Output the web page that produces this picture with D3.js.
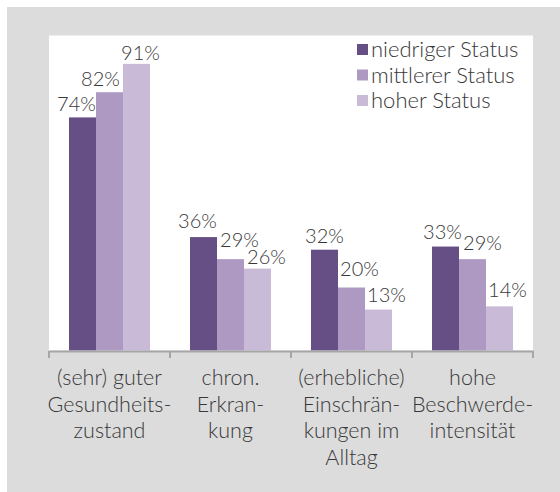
<!DOCTYPE html>
<html><head><meta charset="utf-8">
<script src="https://cdn.jsdelivr.net/npm/d3@7"></script>
<style>html,body{margin:0;padding:0;background:#ffffff;}svg{display:block;}</style>
</head><body>
<svg id="chart" width="560" height="492"></svg>
<script>
const categories = [
  ["(sehr) guter", "Gesundheits-", "zustand"],
  ["chron.", "Erkran-", "kung"],
  ["(erhebliche)", "Einschrän-", "kungen im", "Alltag"],
  ["hohe", "Beschwerde-", "intensität"]
];
const seriesNames = ["niedriger Status", "mittlerer Status", "hoher Status"];
const niedriger = [74, 36, 32, 33];
const mittlerer = [82, 29, 20, 29];
const hoher = [91, 26, 13, 14];
const values = [niedriger, mittlerer, hoher];
const colors = ["#654f84", "#ae99c2", "#c9bad7"];
// label nudges [dx from bar centre, gap above bar top]
const labelNudge = [
  [[-6, 6.7], [-6, 8.8], [0, 7], [-3, 7.5]],
  [[-9, 6.2], [9, 12.5], [8, 11.5], [10, 9]],
  [[4, 3.8], [9, 4.6], [8, 7.5], [8, 9.7]]
];

const svg = d3.select("#chart");
const W = 560, H = 492;
const plot = {x0: 49, x1: 533, y0: 35.5, y1: 350.5};
const font = "Lato, 'Liberation Sans', sans-serif";
const weight = 300;
const textCol = "#383838";

svg.append("rect").attr("x", 7).attr("y", 7).attr("width", W - 7).attr("height", H - 7).attr("fill", "#dcdcdc");
svg.append("rect").attr("x", plot.x0).attr("y", plot.y0).attr("width", plot.x1 - plot.x0)
  .attr("height", plot.y1 - plot.y0).attr("fill", "#ffffff");

const x = d3.scaleBand().domain(d3.range(categories.length)).range([plot.x0, plot.x1]).paddingInner(0).paddingOuter(0);
const inner = d3.scaleBand().domain(d3.range(seriesNames.length)).range([0, x.bandwidth()]).paddingInner(0).paddingOuter(0.74);
const y = d3.scaleLinear().domain([0, 100]).range([plot.y1, plot.y0]);

const g = svg.append("g");
values.forEach((arr, s) => {
  g.selectAll(null).data(arr).enter().append("rect")
    .attr("x", (d, i) => x(i) + inner(s))
    .attr("y", d => y(d))
    .attr("width", inner.bandwidth())
    .attr("height", d => y(0) - y(d))
    .attr("fill", colors[s]);
});

values.forEach((arr, s) => {
  g.selectAll(null).data(arr).enter().append("text")
    .attr("x", (d, i) => x(i) + inner(s) + inner.bandwidth() / 2 + labelNudge[s][i][0])
    .attr("y", (d, i) => y(d) - labelNudge[s][i][1])
    .attr("text-anchor", "middle")
    .attr("font-family", font).attr("font-weight", weight).attr("font-size", 20).attr("fill", textCol)
    .text(d => d + "%");
});

const axis = d3.axisBottom(x).tickValues([]).tickSizeOuter(0);
const axG = svg.append("g").attr("transform", `translate(0,${plot.y1 + 0.5})`).call(axis);
axG.select(".domain").attr("stroke", "#a6a6a6").attr("stroke-width", 2);
const tickPos = d3.range(categories.length + 1).map(i => i < categories.length ? x(i) : x(categories.length - 1) + x.bandwidth());
axG.selectAll("line.tk").data(tickPos).enter().append("line").attr("class", "tk")
  .attr("x1", d => d).attr("x2", d => d).attr("y1", 0).attr("y2", 7)
  .attr("stroke", "#a6a6a6").attr("stroke-width", 2);

categories.forEach((lines, i) => {
  const t = svg.append("text").attr("text-anchor", "middle")
    .attr("font-family", font).attr("font-weight", weight).attr("font-size", 21.5).attr("fill", textCol);
  lines.forEach((ln, k) => {
    t.append("tspan").attr("x", x(i) + x.bandwidth() / 2).attr("y", 385 + k * 26.7).text(ln);
  });
});

const leg = svg.append("g").attr("transform", "translate(357,0)");
seriesNames.forEach((n, s) => {
  const by = 57 + s * 25.5;
  leg.append("rect").attr("x", 0).attr("y", by - 13).attr("width", 11).attr("height", 11).attr("fill", colors[s]);
  leg.append("text").attr("x", 14).attr("y", by).attr("font-family", font).attr("font-weight", weight).attr("font-size", 22)
    .attr("fill", textCol).text(n);
});
</script>
</body></html>
